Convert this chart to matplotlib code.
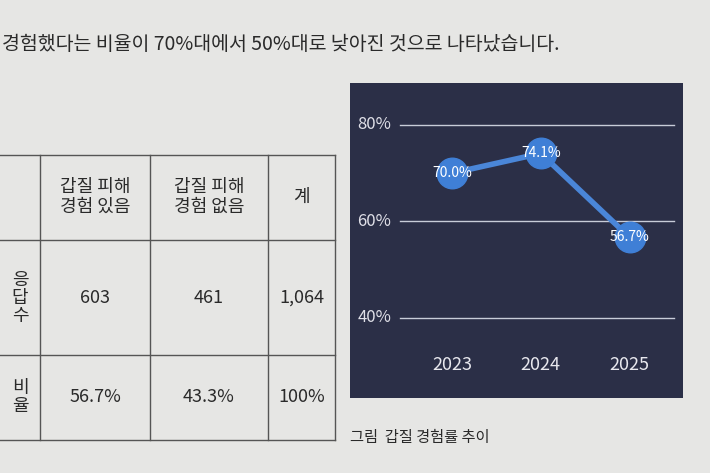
import matplotlib
matplotlib.use("Agg")
import matplotlib.pyplot as plt
from matplotlib.lines import Line2D

plt.rcParams['font.family'] = ['Noto Sans CJK KR', 'DejaVu Sans']

years = ["2023", "2024", "2025"]
rates = [70.0, 74.1, 56.7]
yticks = [40, 60, 80]
col_heads = ["갑질 피해\n경험 있음", "갑질 피해\n경험 없음", "계"]
row_heads = ["응\n답\n수", "비\n율"]
counts = ["603", "461", "1,064"]
ratios = ["56.7%", "43.3%", "100%"]

W, H = 710, 473
fig = plt.figure(figsize=(7.1, 4.73), dpi=100)
fig.patch.set_facecolor('#e6e6e4')

def fx(x): return x / W
def fy(y): return 1 - y / H

ink = '#2a2a2a'
fig.text(fx(2), fy(45), "경험했다는 비율이 70%대에서 50%대로 낮아진 것으로 나타났습니다.",
         fontsize=14, color=ink, va='center', ha='left')

# table
xs = [0, 40, 150, 268, 335]
ys = [155, 240, 355, 440]
for y in ys:
    fig.add_artist(Line2D([fx(0), fx(335)], [fy(y), fy(y)], color='#555', lw=1))
for x in xs[1:]:
    fig.add_artist(Line2D([fx(x), fx(x)], [fy(155), fy(440)], color='#555', lw=1))
for i, h in enumerate(col_heads):
    fig.text(fx((xs[i+1]+xs[i+2])/2), fy(197), h, ha='center', va='center',
             fontsize=13, color=ink, linespacing=1.1)
for r, (rh, vals) in enumerate(zip(row_heads, [counts, ratios])):
    yc = (ys[r+1]+ys[r+2])/2
    fig.text(fx(20), fy(yc), rh, ha='center', va='center', fontsize=13, color=ink, linespacing=1.0)
    for i, v in enumerate(vals):
        fig.text(fx((xs[i+1]+xs[i+2])/2), fy(yc), v, ha='center', va='center', fontsize=13, color=ink)

# chart panel
ax = fig.add_axes([fx(350), fy(398), 333/W, 315/H])
ax.set_facecolor('#2b2f47')
for s in ax.spines.values():
    s.set_visible(False)
ax.set_xticks([]); ax.set_yticks([])
ax.set_xlim(-1.146, 2.6)
ax.set_ylim(23.4, 88.7)
for t in yticks:
    ax.plot([-0.58, 2.5], [t, t], color='#c8ccd8', lw=1)
    ax.text(-0.87, t, f"{t}%", color='#e0e0e8', fontsize=12, ha='center', va='center')
xi = list(range(len(years)))
ax.plot(xi, rates, color='#4a86d8', lw=4, marker='o', ms=22, mfc='#3f7fd6', mec='#3f7fd6')
for i, (yr, r) in enumerate(zip(years, rates)):
    ax.text(i, r, f"{r:.1f}%", color='white', fontsize=10, ha='center', va='center')
    ax.text(i, 30.3, yr, color='#e8e8ee', fontsize=13, ha='center', va='center')

fig.text(fx(350), fy(437), "그림  갑질 경험률 추이", fontsize=11, color=ink, ha='left', va='center')

fig.savefig('out.png', dpi=100, facecolor=fig.get_facecolor())
